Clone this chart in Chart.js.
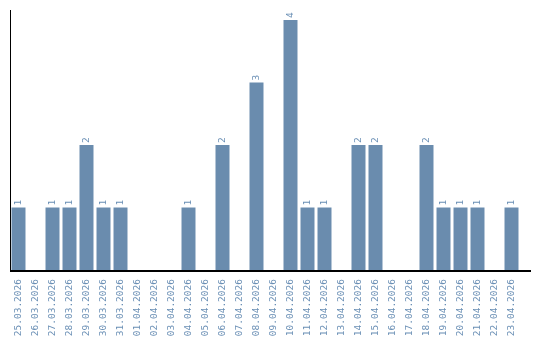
<!DOCTYPE html>
<html>
<head>
<meta charset="utf-8">
<script src="https://cdn.jsdelivr.net/npm/chart.js@4/dist/chart.umd.min.js"></script>
<style>
    html, body { margin: 0; padding: 0; background: #fff; }
    #wrap { width: 540px; height: 340px; }
</style>
</head>
<body>
<div id="wrap"><canvas id="c" width="540" height="340"></canvas></div>
<script>
// Daily counts, 25.03.2026 - 23.04.2026
const days = [
    '25.03.2026', '26.03.2026', '27.03.2026', '28.03.2026', '29.03.2026',
    '30.03.2026', '31.03.2026', '01.04.2026', '02.04.2026', '03.04.2026',
    '04.04.2026', '05.04.2026', '06.04.2026', '07.04.2026', '08.04.2026',
    '09.04.2026', '10.04.2026', '11.04.2026', '12.04.2026', '13.04.2026',
    '14.04.2026', '15.04.2026', '16.04.2026', '17.04.2026', '18.04.2026',
    '19.04.2026', '20.04.2026', '21.04.2026', '22.04.2026', '23.04.2026'
];
const counts = [1, 0, 1, 1, 2, 1, 1, 0, 0, 0, 1, 0, 2, 0, 3, 0, 4, 1, 1, 0, 2, 2, 0, 0, 2, 1, 1, 1, 0, 1];
const yMax = 4.16;

const barColor = '#6a8cae';
const textColor = '#6a8fb5';
const font = '9.5px "DejaVu Sans Mono", monospace';

// axis lines + rotated value labels above bars
const decorate = {
    id: 'decorate',
    afterDatasetsDraw(chart) {
        const ctx = chart.ctx;
        const a = chart.chartArea;
        ctx.save();
        ctx.strokeStyle = '#000';
        ctx.lineWidth = 1;
        ctx.beginPath();
        ctx.moveTo(a.left + 0.5, a.top);
        ctx.lineTo(a.left + 0.5, a.bottom);
        ctx.stroke();
        ctx.lineWidth = 2;
        ctx.beginPath();
        ctx.moveTo(a.left, a.bottom + 1);
        ctx.lineTo(a.right + 11, a.bottom + 1);
        ctx.stroke();

        ctx.fillStyle = textColor;
        ctx.font = font;
        ctx.textAlign = 'left';
        ctx.textBaseline = 'middle';
        chart.getDatasetMeta(0).data.forEach((bar, i) => {
            if (!counts[i]) return;
            ctx.save();
            ctx.translate(bar.x, bar.y - 2);
            ctx.rotate(-Math.PI / 2);
            ctx.fillText(String(counts[i]), 0, 0);
            ctx.restore();
        });
        ctx.restore();
    }
};

new Chart(document.getElementById('c'), {
    type: 'bar',
    data: {
        labels: days,
        datasets: [{
            data: counts,
            backgroundColor: barColor,
            borderWidth: 0,
            barPercentage: 0.9,
            categoryPercentage: 0.915
        }]
    },
    options: {
        responsive: false,
        animation: false,
        devicePixelRatio: 1,
        layout: { padding: { left: 10, top: 10, right: 20, bottom: 0 } },
        plugins: {
            legend: { display: false },
            tooltip: { enabled: false }
        },
        scales: {
            x: {
                grid: { display: false },
                border: { display: false },
                ticks: {
                    color: textColor,
                    font: { family: '"DejaVu Sans Mono", monospace', size: 9.5 },
                    minRotation: 90,
                    maxRotation: 90,
                    autoSkip: false,
                    padding: 1
                },
                afterFit(scale) { scale.height = 70; }
            },
            y: {
                display: false,
                min: 0,
                max: yMax
            }
        }
    },
    plugins: [decorate]
});
</script>
</body>
</html>
